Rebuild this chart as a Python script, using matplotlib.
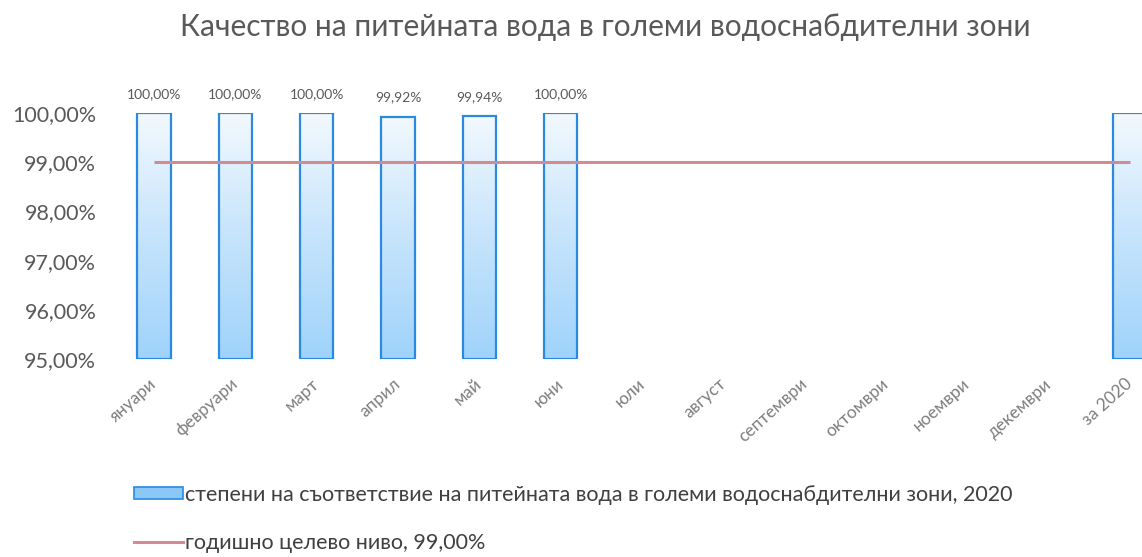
import numpy as np
import matplotlib
matplotlib.use("Agg")
import matplotlib.pyplot as plt
import matplotlib.transforms as mtransforms
from matplotlib.patches import Rectangle, Patch
from matplotlib.lines import Line2D
from matplotlib.colors import LinearSegmentedColormap

plt.rcParams['font.family'] = ['Lato', 'DejaVu Sans']

categories = ["януари", "февруари", "март", "април", "май", "юни", "юли",
              "август", "септември", "октомври", "ноември", "декември", "за 2020"]
values = [100.00, 100.00, 100.00, 99.92, 99.94, 100.00, None, None, None, None, None, None, 99.99]
value_labels = ["100,00%", "100,00%", "100,00%", "99,92%", "99,94%", "100,00%", "", "", "", "", "", "", ""]
target = 99.00
yticks = [95, 96, 97, 98, 99, 100]
ytick_labels = ["95,00%", "96,00%", "97,00%", "98,00%", "99,00%", "100,00%"]
title = "Качество на питейната вода в големи водоснабдителни зони"
legend_bar = "степени на съответствие на питейната вода в големи водоснабдителни зони, 2020"
legend_line = "годишно целево ниво, 99,00%"

W, H = 1142, 557
fig = plt.figure(figsize=(W / 100, H / 100), dpi=100)
ax = fig.add_axes([113 / W, 1 - 359 / H, (W - 113) / W, (359 - 113) / H])

cmap = LinearSegmentedColormap.from_list("g", ["#9fd3fb", "#c6e4fc", "#f2f9fe"])
grad = np.linspace(0, 1, 256).reshape(-1, 1)
bw = 0.41
x = np.arange(len(categories))
for i, v in enumerate(values):
    if v is None:
        continue
    rect = Rectangle((x[i] - bw / 2, 95), bw, v - 95, facecolor="none",
                     edgecolor="#2a8ae2", linewidth=1.6, zorder=3)
    ax.add_patch(rect)
    im = ax.imshow(grad, extent=(x[i] - bw / 2, x[i] + bw / 2, 95, v), origin="lower",
                   cmap=cmap, aspect="auto", zorder=2)
    im.set_clip_path(rect)
    if value_labels[i]:
        ax.text(x[i], v + 0.27, value_labels[i], ha="center", va="bottom",
                fontsize=10, color="#595959", clip_on=False)
ax.set_aspect("auto")
ax.set_xlim(-0.504, 12.15)
ax.set_ylim(95, 100)

ax.plot([x[0], x[-1]], [target, target], color="#d28a93", linewidth=2.2, zorder=4,
        solid_capstyle="butt")

ax.set_yticks(yticks)
ax.set_yticklabels(ytick_labels, fontsize=15.5, color="#595959")
ax.set_xticks(x)
ax.set_xticklabels(categories, rotation=42, ha="right", va="top", fontsize=12.5,
                   color="#7f7f7f", rotation_mode="anchor")
ax.tick_params(length=0, axis="both")
ax.tick_params(axis="y", pad=12)
ax.tick_params(axis="x", pad=12)
offset = mtransforms.ScaledTranslation(-5 / 100, 0, fig.dpi_scale_trans)
for lbl in ax.get_xticklabels():
    lbl.set_transform(lbl.get_transform() + offset)
for s in ax.spines.values():
    s.set_visible(False)

fig.text(0.53, 1 - 27 / H, title, ha="center", va="center", fontsize=21.5, color="#595959")

handles = [Patch(facecolor="#8cc8f7", edgecolor="#2a8ae2", linewidth=1.2),
           Line2D([0], [0], color="#d28a93", linewidth=2.2)]
leg = fig.legend(handles, [legend_bar, legend_line], loc="upper left",
                 bbox_to_anchor=(125 / W, 1 - 476 / H), frameon=False, fontsize=15.5,
                 labelspacing=1.3, handlelength=2.3, handleheight=0.45, handletextpad=0.1,
                 borderaxespad=0)
for t in leg.get_texts():
    t.set_color("#404040")

fig.savefig("out.png", dpi=100)
